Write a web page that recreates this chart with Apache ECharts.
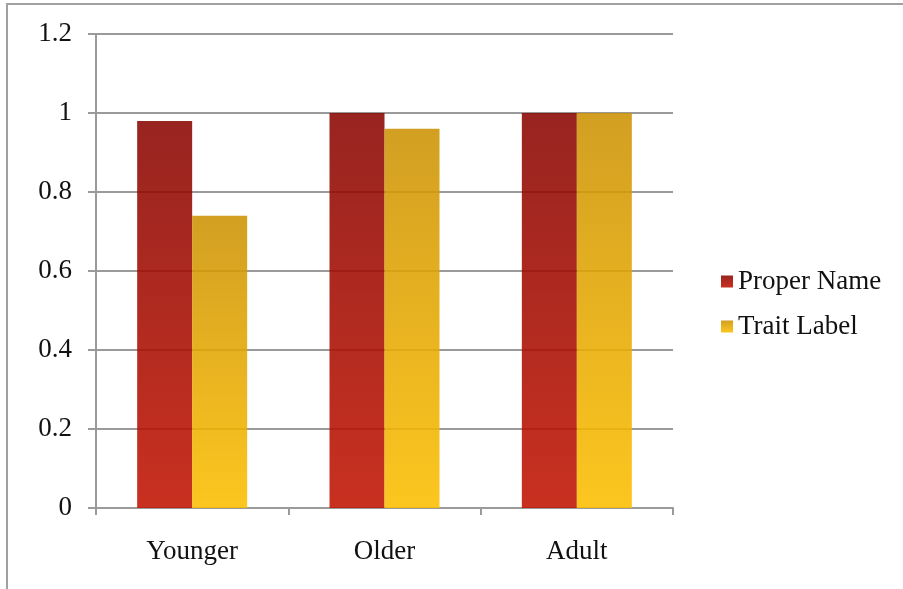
<!DOCTYPE html>
<html>
<head>
<meta charset="utf-8">
<script src="https://cdn.jsdelivr.net/npm/echarts@6/dist/echarts.min.js"></script>
<style>
  html, body { margin: 0; padding: 0; background: #fff; }
  #chart { width: 903px; height: 589px; }
</style>
</head>
<body>
<div id="chart"></div>
<script>
const categories = ['Younger', 'Older', 'Adult'];
const properName = [0.98, 1.0, 1.0];
const traitLabel = [0.74, 0.96, 1.0];
const yTicks = [0, 0.2, 0.4, 0.6, 0.8, 1, 1.2];

const FONT = '"Liberation Serif", "DejaVu Serif", serif';
const GRID_GRAY = '#9a9a9a';

function grad(top, bottom) {
  return new echarts.graphic.LinearGradient(0, 0, 0, 1, [
    { offset: 0, color: top },
    { offset: 1, color: bottom }
  ]);
}

const chart = echarts.init(document.getElementById('chart'));
chart.setOption({
  animation: false,
  backgroundColor: '#fff',
  graphic: [{
    type: 'rect',
    shape: { x: 7, y: 4, width: 1000, height: 1000 },
    style: { fill: 'none', stroke: '#a0a0a0', lineWidth: 2 },
    silent: true
  }],
  grid: { left: 96, top: 34, right: 230, bottom: 81, containLabel: false },
  legend: {
    orient: 'vertical',
    left: 716,
    top: 263,
    itemWidth: 12,
    itemHeight: 12,
    itemGap: 18,
    icon: 'rect',
    textStyle: { fontFamily: FONT, fontSize: 27, color: '#111' },
    data: ['Proper Name', 'Trait Label']
  },
  xAxis: {
    type: 'category',
    data: categories,
    axisLine: { lineStyle: { color: GRID_GRAY, width: 2 } },
    axisTick: { show: true, length: 7, alignWithLabel: false, lineStyle: { color: GRID_GRAY, width: 2 } },
    axisLabel: { fontFamily: FONT, fontSize: 27, color: '#111', margin: 30 }
  },
  yAxis: {
    type: 'value',
    min: 0,
    max: 1.2,
    interval: 0.2,
    axisLine: { show: true, lineStyle: { color: GRID_GRAY, width: 2 } },
    axisTick: { show: true, length: 8, lineStyle: { color: GRID_GRAY, width: 2 } },
    splitLine: { show: true, lineStyle: { color: GRID_GRAY, width: 2 } },
    axisLabel: {
      fontFamily: FONT, fontSize: 27, color: '#111', margin: 24,
      formatter: v => {
        const t = yTicks.find(x => Math.abs(x - v) < 1e-9);
        return t === undefined ? '' : String(t);
      }
    }
  },
  series: [
    {
      name: 'Proper Name',
      type: 'bar',
      data: properName,
      barWidth: 55,
      barGap: '0%',
      itemStyle: { color: grad('#8a0602', '#c11401'), opacity: 0.88 }
    },
    {
      name: 'Trait Label',
      type: 'bar',
      data: traitLabel,
      barWidth: 55,
      barGap: '0%',
      itemStyle: { color: grad('#cc9204', '#fcbe00'), opacity: 0.88 }
    }
  ]
});
</script>
</body>
</html>
